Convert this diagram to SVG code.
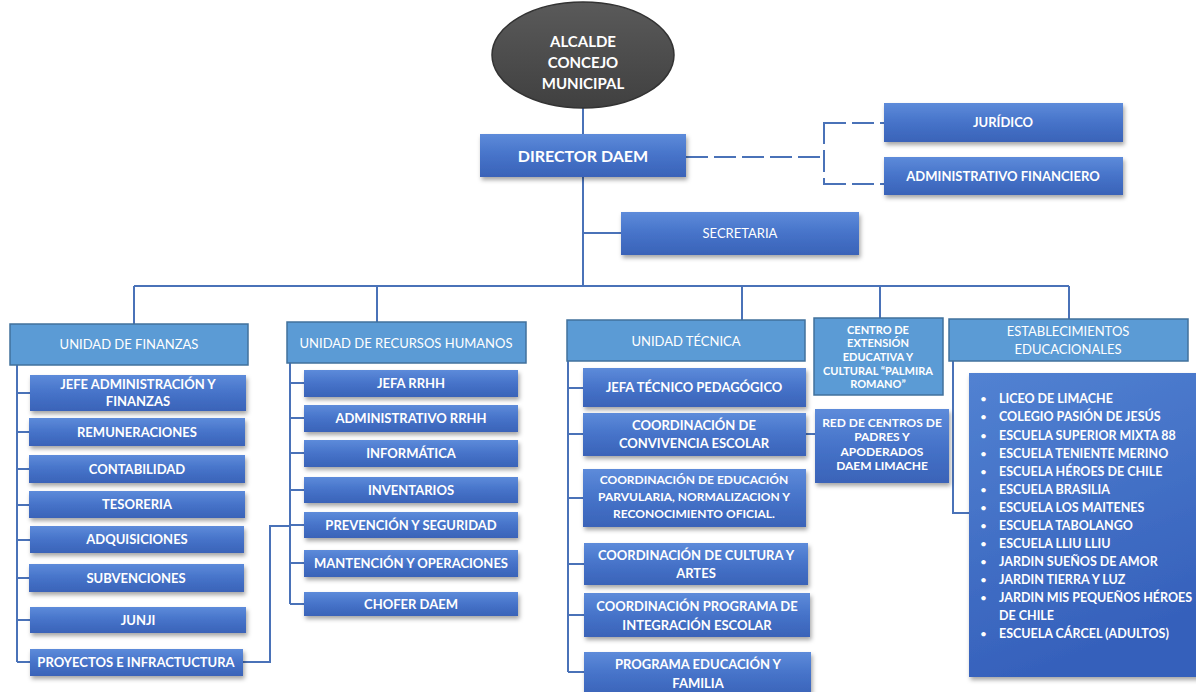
<svg xmlns="http://www.w3.org/2000/svg" width="1196" height="692" viewBox="0 0 1196 692">
<defs>
<linearGradient id="gDark" x1="0" y1="0" x2="0" y2="1">
<stop offset="0" stop-color="#5d8bda"/>
<stop offset="0.5" stop-color="#4673c9"/>
<stop offset="1" stop-color="#3a63b8"/>
</linearGradient>
<linearGradient id="gList" x1="0" y1="0" x2="0.3" y2="1">
<stop offset="0" stop-color="#5282d2"/>
<stop offset="1" stop-color="#3560bb"/>
</linearGradient>
<linearGradient id="gEll" x1="0" y1="0" x2="0" y2="1">
<stop offset="0" stop-color="#5a5a5a"/>
<stop offset="1" stop-color="#404040"/>
</linearGradient>
<filter id="sh" x="-10%" y="-20%" width="120%" height="150%">
<feDropShadow dx="1.5" dy="3" stdDeviation="2" flood-color="#000" flood-opacity="0.35"/>
</filter>
<style>
.dark{fill:url(#gDark);filter:url(#sh)}
.light{fill:#5b9bd5;stroke:#41719c;stroke-width:1.5}
.ln{fill:none;stroke:#4a72b8;stroke-width:2}
.dash{fill:none;stroke:#4a72b8;stroke-width:2;stroke-dasharray:22,6}
text{font-family:Lato,"Open Sans","Liberation Sans",sans-serif;fill:#fff;text-anchor:middle}
.t{font-size:13px;font-weight:700}
.h{font-size:13px;font-weight:400}
.s{font-size:11px;font-weight:700}
.b{font-size:16px;font-weight:700}
.li{font-size:12.5px;font-weight:700;text-anchor:start}
.bu{font-size:12px;text-anchor:start}
</style>
</defs>
<rect width="1196" height="692" fill="#fff"/>

<g id="connectors">
<path class="ln" d="M583 108V135"/>
<path class="ln" d="M583 177V286"/>
<path class="ln" d="M583 233H621"/>
<path class="ln" d="M134 286H1069"/>
<path class="ln" d="M134 286V324M377 286V322M742 286V320M880 286V318M1069 286V319"/>
<path class="dash" d="M686 157H824"/>
<path class="dash" d="M824 122V185"/>
<path class="dash" d="M824 123H884M824 184H884"/>
<path class="ln" d="M17 365V662M17 393H30M17 432H29M17 469H29M17 505H29M17 540H30M17 578H29M17 620H30M17 662H30"/>
<path class="ln" d="M243 662H270V526H290"/>
<path class="ln" d="M290 363V604M290 383H304M290 418H304M290 453H304M290 490H304M290 525H304M290 563H304M290 604H304"/>
<path class="ln" d="M568 361V672M568 388H583M568 434H583M568 498H583M568 564H584M568 615H584M568 672H584"/>
<path class="ln" d="M806 434H815"/>
<path class="ln" d="M953 361V513H969"/>
</g>

<g id="alcalde">
<ellipse cx="583" cy="55" rx="91" ry="53" fill="url(#gEll)" stroke="#333" stroke-width="1.5"/>
<text class="b" x="583" y="47" style="font-size:15px">ALCALDE</text>
<text class="b" x="583" y="68" style="font-size:15px">CONCEJO</text>
<text class="b" x="583" y="89" style="font-size:15px">MUNICIPAL</text>
</g>

<g id="director">
<rect class="dark" x="480" y="134" width="206" height="43"/>
<text class="b" x="583" y="162">DIRECTOR DAEM</text>
</g>

<g id="juridico">
<rect class="dark" x="884" y="103" width="239" height="39"/>
<text class="t" x="1003" y="127">JURÍDICO</text>
</g>
<g id="adm-financiero">
<rect class="dark" x="884" y="157" width="239" height="38"/>
<text class="t" x="1003" y="181">ADMINISTRATIVO FINANCIERO</text>
</g>

<g id="secretaria">
<rect class="dark" x="621" y="212" width="238" height="43"/>
<text class="h" x="740" y="238">SECRETARIA</text>
</g>

<g id="unidad-finanzas">
<rect class="light" x="10" y="324" width="238" height="41"/>
<text class="h" x="129" y="349">UNIDAD DE FINANZAS</text>
</g>
<g id="jefe-adm"><rect class="dark" x="30" y="375" width="216" height="36"/>
<text class="t" x="138" y="389">JEFE ADMINISTRACIÓN Y</text><text class="t" x="138" y="406">FINANZAS</text></g>
<g id="remuneraciones"><rect class="dark" x="29" y="418" width="216" height="28"/><text class="t" x="137" y="437">REMUNERACIONES</text></g>
<g id="contabilidad"><rect class="dark" x="29" y="455" width="216" height="28"/><text class="t" x="137" y="474">CONTABILIDAD</text></g>
<g id="tesoreria"><rect class="dark" x="29" y="491" width="216" height="27"/><text class="t" x="137" y="509">TESORERIA</text></g>
<g id="adquisiciones"><rect class="dark" x="30" y="526" width="214" height="27"/><text class="t" x="137" y="544">ADQUISICIONES</text></g>
<g id="subvenciones"><rect class="dark" x="29" y="564" width="215" height="28"/><text class="t" x="136" y="583">SUBVENCIONES</text></g>
<g id="junji"><rect class="dark" x="30" y="607" width="216" height="26"/><text class="t" x="138" y="625">JUNJI</text></g>
<g id="proyectos"><rect class="dark" x="30" y="649" width="213" height="27"/><text class="t" x="136" y="667">PROYECTOS E INFRACTUCTURA</text></g>

<g id="unidad-rrhh">
<rect class="light" x="287" y="322" width="239" height="41"/>
<text class="h" x="406" y="348">UNIDAD DE RECURSOS HUMANOS</text>
</g>
<g id="jefa-rrhh"><rect class="dark" x="304" y="370" width="214" height="27"/><text class="t" x="411" y="388">JEFA RRHH</text></g>
<g id="adm-rrhh"><rect class="dark" x="304" y="405" width="214" height="27"/><text class="t" x="411" y="423">ADMINISTRATIVO RRHH</text></g>
<g id="informatica"><rect class="dark" x="304" y="440" width="214" height="27"/><text class="t" x="411" y="458">INFORMÁTICA</text></g>
<g id="inventarios"><rect class="dark" x="304" y="477" width="214" height="26"/><text class="t" x="411" y="495">INVENTARIOS</text></g>
<g id="prevencion"><rect class="dark" x="304" y="512" width="214" height="26"/><text class="t" x="411" y="530">PREVENCIÓN Y SEGURIDAD</text></g>
<g id="mantencion"><rect class="dark" x="304" y="550" width="214" height="27"/><text class="t" x="411" y="568">MANTENCIÓN Y OPERACIONES</text></g>
<g id="chofer"><rect class="dark" x="304" y="592" width="214" height="24"/><text class="t" x="411" y="609">CHOFER DAEM</text></g>

<g id="unidad-tecnica">
<rect class="light" x="567" y="320" width="238" height="41"/>
<text class="h" x="686" y="346">UNIDAD TÉCNICA</text>
</g>
<g id="jefa-tecnico"><rect class="dark" x="583" y="368" width="223" height="39"/><text class="t" x="694" y="392">JEFA TÉCNICO PEDAGÓGICO</text></g>
<g id="convivencia"><rect class="dark" x="583" y="413" width="223" height="43"/>
<text class="t" x="694" y="430">COORDINACIÓN DE</text><text class="t" x="694" y="448">CONVIVENCIA ESCOLAR</text></g>
<g id="parvularia"><rect class="dark" x="583" y="469" width="223" height="58"/>
<text class="t" x="694" y="484" style="font-size:12px">COORDINACIÓN DE EDUCACIÓN</text>
<text class="t" x="694" y="501" style="font-size:12px">PARVULARIA, NORMALIZACION Y</text>
<text class="t" x="694" y="518" style="font-size:12px">RECONOCIMIENTO OFICIAL.</text></g>
<g id="cultura"><rect class="dark" x="584" y="543" width="224" height="42"/>
<text class="t" x="696" y="560">COORDINACIÓN DE CULTURA Y</text><text class="t" x="696" y="578">ARTES</text></g>
<g id="integracion"><rect class="dark" x="584" y="593" width="226" height="44"/>
<text class="t" x="697" y="611">COORDINACIÓN PROGRAMA DE</text><text class="t" x="697" y="630">INTEGRACIÓN ESCOLAR</text></g>
<g id="familia"><rect class="dark" x="584" y="652" width="227" height="44"/>
<text class="t" x="698" y="669">PROGRAMA EDUCACIÓN Y</text><text class="t" x="698" y="688">FAMILIA</text></g>

<g id="centro-extension">
<rect class="light" x="814" y="318" width="129" height="77"/>
<text class="s" x="878" y="334">CENTRO DE</text>
<text class="s" x="878" y="347">EXTENSIÓN</text>
<text class="s" x="878" y="361">EDUCATIVA Y</text>
<text class="s" x="878" y="375">CULTURAL “PALMIRA</text>
<text class="s" x="878" y="388">ROMANO”</text>
</g>

<g id="red-centros">
<rect class="dark" x="815" y="409" width="134" height="74"/>
<text class="t" x="882" y="427" style="font-size:12px">RED DE CENTROS DE</text>
<text class="t" x="882" y="441" style="font-size:12px">PADRES Y</text>
<text class="t" x="882" y="456" style="font-size:12px">APODERADOS</text>
<text class="t" x="882" y="470" style="font-size:12px">DAEM LIMACHE</text>
</g>

<g id="establecimientos">
<rect class="light" x="949" y="319" width="239" height="42"/>
<text class="h" x="1068" y="336">ESTABLECIMIENTOS</text>
<text class="h" x="1068" y="354">EDUCACIONALES</text>
</g>

<g id="lista-establecimientos">
<rect x="969" y="373" width="240" height="304" fill="url(#gList)" filter="url(#sh)"/>
<g>
<text class="bu" x="980" y="403">•</text><text class="li" x="999" y="403">LICEO DE LIMACHE</text>
<text class="bu" x="980" y="421">•</text><text class="li" x="999" y="421">COLEGIO PASIÓN DE JESÚS</text>
<text class="bu" x="980" y="440">•</text><text class="li" x="999" y="440">ESCUELA SUPERIOR MIXTA 88</text>
<text class="bu" x="980" y="458">•</text><text class="li" x="999" y="458">ESCUELA TENIENTE MERINO</text>
<text class="bu" x="980" y="476">•</text><text class="li" x="999" y="476">ESCUELA HÉROES DE CHILE</text>
<text class="bu" x="980" y="494">•</text><text class="li" x="999" y="494">ESCUELA BRASILIA</text>
<text class="bu" x="980" y="512">•</text><text class="li" x="999" y="512">ESCUELA LOS MAITENES</text>
<text class="bu" x="980" y="530">•</text><text class="li" x="999" y="530">ESCUELA TABOLANGO</text>
<text class="bu" x="980" y="548">•</text><text class="li" x="999" y="548">ESCUELA LLIU LLIU</text>
<text class="bu" x="980" y="566">•</text><text class="li" x="999" y="566">JARDIN SUEÑOS DE AMOR</text>
<text class="bu" x="980" y="584">•</text><text class="li" x="999" y="584">JARDIN TIERRA Y LUZ</text>
<text class="bu" x="980" y="602">•</text><text class="li" x="999" y="602">JARDIN MIS PEQUEÑOS HÉROES</text>
<text class="li" x="999" y="620">DE CHILE</text>
<text class="bu" x="980" y="638">•</text><text class="li" x="999" y="638">ESCUELA CÁRCEL (ADULTOS)</text>
</g>
</g>
</svg>
